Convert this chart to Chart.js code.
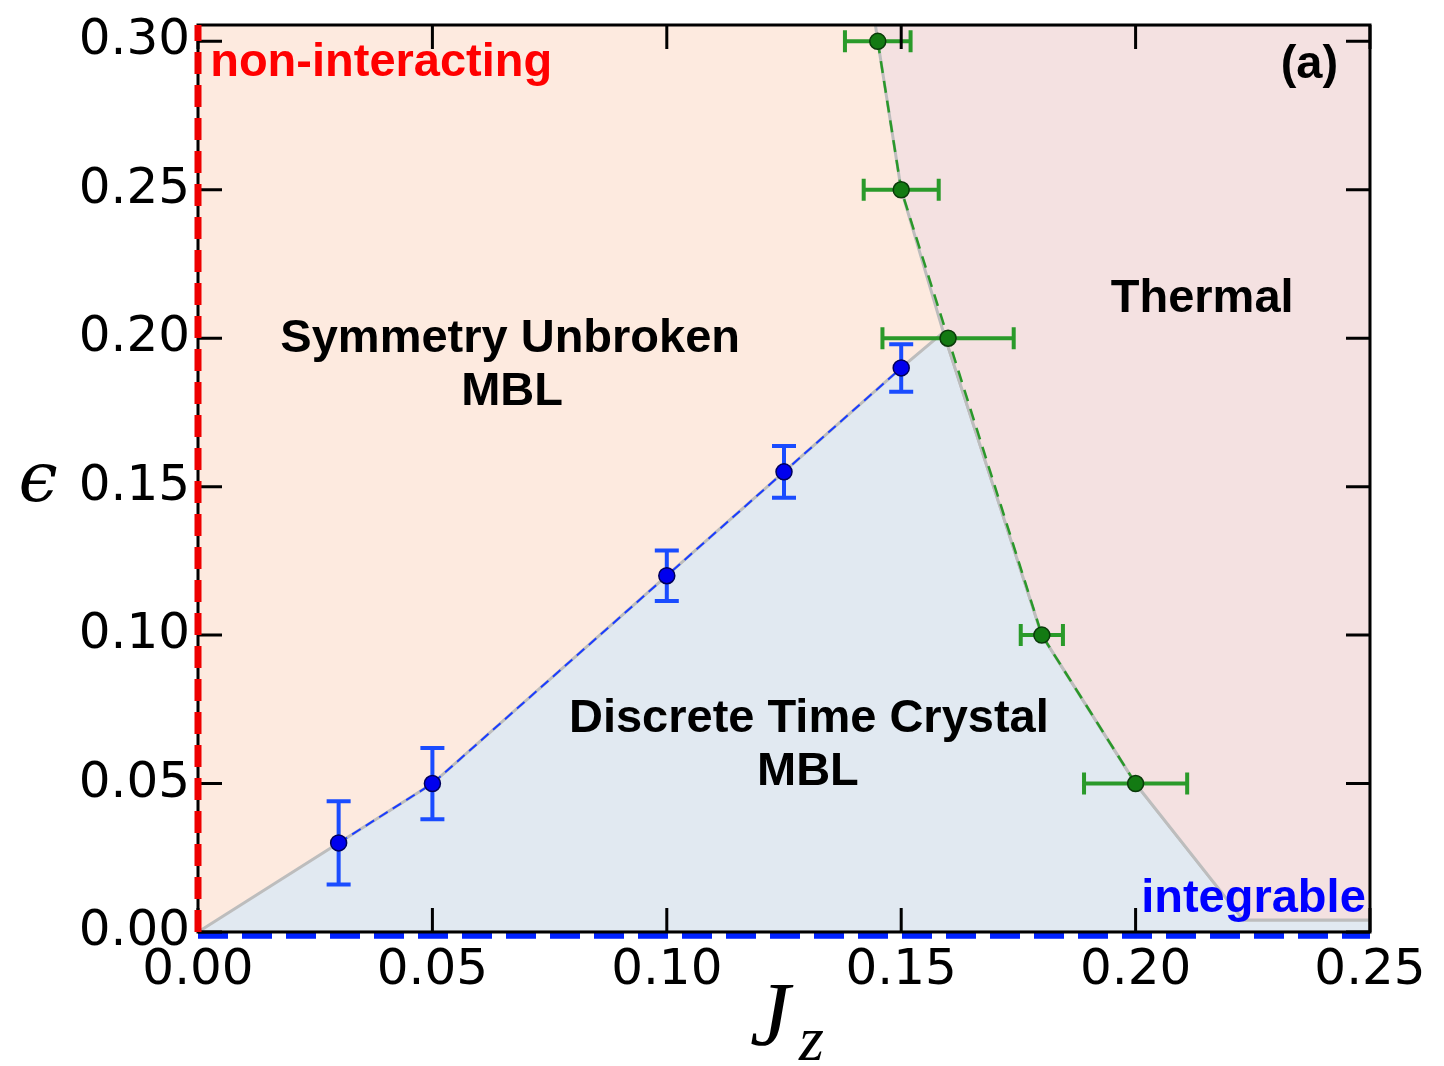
<!DOCTYPE html>
<html>
<head>
<meta charset="utf-8">
<script src="https://cdn.jsdelivr.net/npm/chart.js@4.4.1/dist/chart.umd.min.js"></script>
<style>
  body { margin: 0; background: #fff; }
  #wrap { width: 1444px; height: 1066px; }
</style>
</head>
<body>
<div id="wrap"><canvas id="chart"></canvas></div>
<script>
const jzTicks = [0, 0.05, 0.10, 0.15, 0.20, 0.25];
const epsTicks = [0, 0.05, 0.10, 0.15, 0.20, 0.25, 0.30];

// symmetry unbroken -> DTC transition (vertical error bars)
const dtcJz = [0.03, 0.05, 0.10, 0.125, 0.15];
const dtcEps = [0.03, 0.05, 0.12, 0.155, 0.19];
const dtcErr = [0.014, 0.012, 0.0085, 0.0087, 0.008];

// MBL -> thermal transition (horizontal error bars)
const thJz = [0.145, 0.15, 0.16, 0.18, 0.20];
const thEps = [0.30, 0.25, 0.20, 0.10, 0.05];
const thErr = [0.007, 0.008, 0.014, 0.0045, 0.011];

// shaded phase regions
const thermalJz = [0.1445, 0.25, 0.25, 0.223, 0.218, 0.20, 0.18, 0.159, 0.15, 0.145, 0.1445];
const thermalEps = [0.3055, 0.3055, 0.004, 0.004, 0.014, 0.05, 0.10, 0.202, 0.25, 0.30, 0.3055];
const dtcZoneJz = [0, 0.03, 0.05, 0.10, 0.125, 0.15, 0.159, 0.18, 0.20, 0.218, 0.223, 0.25, 0.25, 0];
const dtcZoneEps = [0, 0.03, 0.05, 0.12, 0.155, 0.19, 0.202, 0.10, 0.05, 0.014, 0.004, 0.004, 0, 0];
const boxJz = [0, 0.25, 0.25, 0, 0];
const boxEps = [0, 0, 0.3055, 0.3055, 0];

// limiting lines
const nonIntJz = [0, 0];
const nonIntEps = [0, 0.3055];
const integJz = [0, 0.25];
const integEps = [-0.0013, -0.0013];

// region labels [text, jz, eps, align, colour]
const labels = [
    ['non-interacting', 0.0026, 0.2883, 'left', '#ff0000'],
    ['(a)', 0.2432, 0.2875, 'right', '#000'],
    ['Thermal', 0.2142, 0.2088, 'center', '#000'],
    ['Symmetry Unbroken', 0.0666, 0.1953, 'center', '#000'],
    ['MBL', 0.0670, 0.1775, 'center', '#000'],
    ['Discrete Time Crystal', 0.1303, 0.0674, 'center', '#000'],
    ['MBL', 0.1301, 0.0495, 'center', '#000'],
    ['integrable', 0.2491, 0.0067, 'right', '#0000ff']
];

function pts(xs, ys) {
    return xs.map((x, i) => ({x: x, y: ys[i]}));
}

const overlay = {
    id: 'overlay',
    beforeDatasetDraw(chart, args) {
        const ds = chart.data.datasets[args.index];
        const ctx = chart.ctx;
        const xs = chart.scales.x, ys = chart.scales.y;
        const a = chart.chartArea;
        if (ds.errY || ds.errX) {
            ctx.save();
            ctx.strokeStyle = ds.errColor;
            ctx.lineWidth = 4;
            ds.data.forEach((p, i) => {
                const cx = xs.getPixelForValue(p.x), cy = ys.getPixelForValue(p.y);
                ctx.beginPath();
                if (ds.errY) {
                    const y1 = ys.getPixelForValue(p.y - ds.errY[i]);
                    const y2 = ys.getPixelForValue(p.y + ds.errY[i]);
                    ctx.moveTo(cx, y1); ctx.lineTo(cx, y2);
                    ctx.moveTo(cx - 12, y1); ctx.lineTo(cx + 12, y1);
                    ctx.moveTo(cx - 12, y2); ctx.lineTo(cx + 12, y2);
                } else {
                    const x1 = xs.getPixelForValue(p.x - ds.errX[i]);
                    const x2 = xs.getPixelForValue(p.x + ds.errX[i]);
                    ctx.moveTo(x1, cy); ctx.lineTo(x2, cy);
                    ctx.moveTo(x1, cy - 11); ctx.lineTo(x1, cy + 11);
                    ctx.moveTo(x2, cy - 11); ctx.lineTo(x2, cy + 11);
                }
                ctx.stroke();
            });
            ctx.restore();
        }
        if (ds.frameBelow) {
            ctx.save();
            ctx.strokeStyle = '#000';
            ctx.lineWidth = 3;
            ctx.strokeRect(a.left, a.top, a.right - a.left, a.bottom - a.top);
            ctx.beginPath();
            jzTicks.forEach(v => {
                const p = xs.getPixelForValue(v);
                ctx.moveTo(p, a.bottom); ctx.lineTo(p, a.bottom - 24);
                ctx.moveTo(p, a.top); ctx.lineTo(p, a.top + 24);
            });
            epsTicks.forEach(v => {
                const p = ys.getPixelForValue(v);
                ctx.moveTo(a.left, p); ctx.lineTo(a.left + 24, p);
                ctx.moveTo(a.right, p); ctx.lineTo(a.right - 24, p);
            });
            ctx.stroke();
            ctx.restore();
        }
    },
    afterDraw(chart) {
        const ctx = chart.ctx;
        const xs = chart.scales.x, ys = chart.scales.y;
        const a = chart.chartArea;
        ctx.save();
        ctx.textBaseline = 'alphabetic';
        labels.forEach(l => {
            ctx.font = 'bold 47px "Liberation Sans", Arial, sans-serif';
            ctx.fillStyle = l[4];
            ctx.textAlign = l[3];
            ctx.fillText(l[0], xs.getPixelForValue(l[1]), ys.getPixelForValue(l[2]));
        });
        // axis titles
        ctx.fillStyle = '#000';
        ctx.textAlign = 'center';
        ctx.textBaseline = 'middle';
        ctx.font = 'italic 70px "DejaVu Serif", serif';
        ctx.fillText('\u03f5', a.left - 160, (a.top + a.bottom) / 2 + 4);
        ctx.textBaseline = 'alphabetic';
        ctx.textAlign = 'left';
        ctx.font = 'italic 90px "Liberation Serif", serif';
        ctx.fillText('J', 750, 1045);
        ctx.font = 'italic 64px "Liberation Serif", serif';
        ctx.fillText('z', 799, 1060);
        ctx.restore();
    }
};

new Chart(document.getElementById('chart'), {
    type: 'scatter',
    data: {
        datasets: [{
            data: pts(nonIntJz, nonIntEps),
            showLine: true, borderColor: '#ee0000', borderWidth: 7, borderDash: [22, 11],
            pointRadius: 0, clip: false, frameBelow: true
        }, {
            data: pts(integJz, integEps),
            showLine: true, borderColor: '#0022ff', borderWidth: 6, borderDash: [30, 14],
            pointRadius: 0, clip: false
        }, {
            data: pts(thJz, thEps),
            showLine: true, borderColor: '#2a982a', borderWidth: 2.5, borderDash: [12, 8],
            pointRadius: 8, pointBackgroundColor: '#137a13', pointBorderColor: '#0a3a0a', pointBorderWidth: 1.5,
            errX: thErr, errColor: '#2a9a2a', clip: false
        }, {
            data: pts(dtcJz, dtcEps),
            showLine: true, borderColor: '#1a3cff', borderWidth: 2, borderDash: [10, 6],
            pointRadius: 8, pointBackgroundColor: '#0000ee', pointBorderColor: '#00005a', pointBorderWidth: 1.5,
            errY: dtcErr, errColor: '#1a4cff'
        }, {
            data: pts(thermalJz, thermalEps),
            showLine: true, fill: 'shape', backgroundColor: '#f4e1e1',
            borderColor: '#bdbdbd', borderWidth: 3, pointRadius: 0
        }, {
            data: pts(dtcZoneJz, dtcZoneEps),
            showLine: true, fill: 'shape', backgroundColor: '#e1e9f1',
            borderColor: '#bdbdbd', borderWidth: 3, pointRadius: 0
        }, {
            data: pts(boxJz, boxEps),
            showLine: true, fill: 'shape', backgroundColor: '#fdeadf',
            borderWidth: 0, pointRadius: 0
        }]
    },
    options: {
        responsive: true,
        maintainAspectRatio: false,
        animation: false,
        layout: { padding: { top: 25, right: 74, left: 0, bottom: 0 } },
        plugins: { legend: { display: false }, tooltip: { enabled: false } },
        scales: {
            x: {
                type: 'linear', min: 0, max: 0.25,
                afterBuildTicks: s => { s.ticks = jzTicks.map(v => ({value: v})); },
                afterFit: s => { s.height = 134; },
                grid: { display: false },
                border: { display: false },
                ticks: {
                    autoSkip: false, maxRotation: 0, padding: 1, color: '#000',
                    font: { family: 'DejaVu Sans', size: 50 },
                    callback: v => v.toFixed(2)
                }
            },
            y: {
                type: 'linear', min: 0, max: 0.3055,
                afterBuildTicks: s => { s.ticks = epsTicks.map(v => ({value: v})); },
                afterFit: s => { s.width = 198; },
                grid: { display: false },
                border: { display: false },
                ticks: {
                    autoSkip: false, padding: 0, color: '#000',
                    font: { family: 'DejaVu Sans', size: 50, lineHeight: 1 },
                    callback: v => v.toFixed(2)
                }
            }
        }
    },
    plugins: [overlay]
});
</script>
</body>
</html>
